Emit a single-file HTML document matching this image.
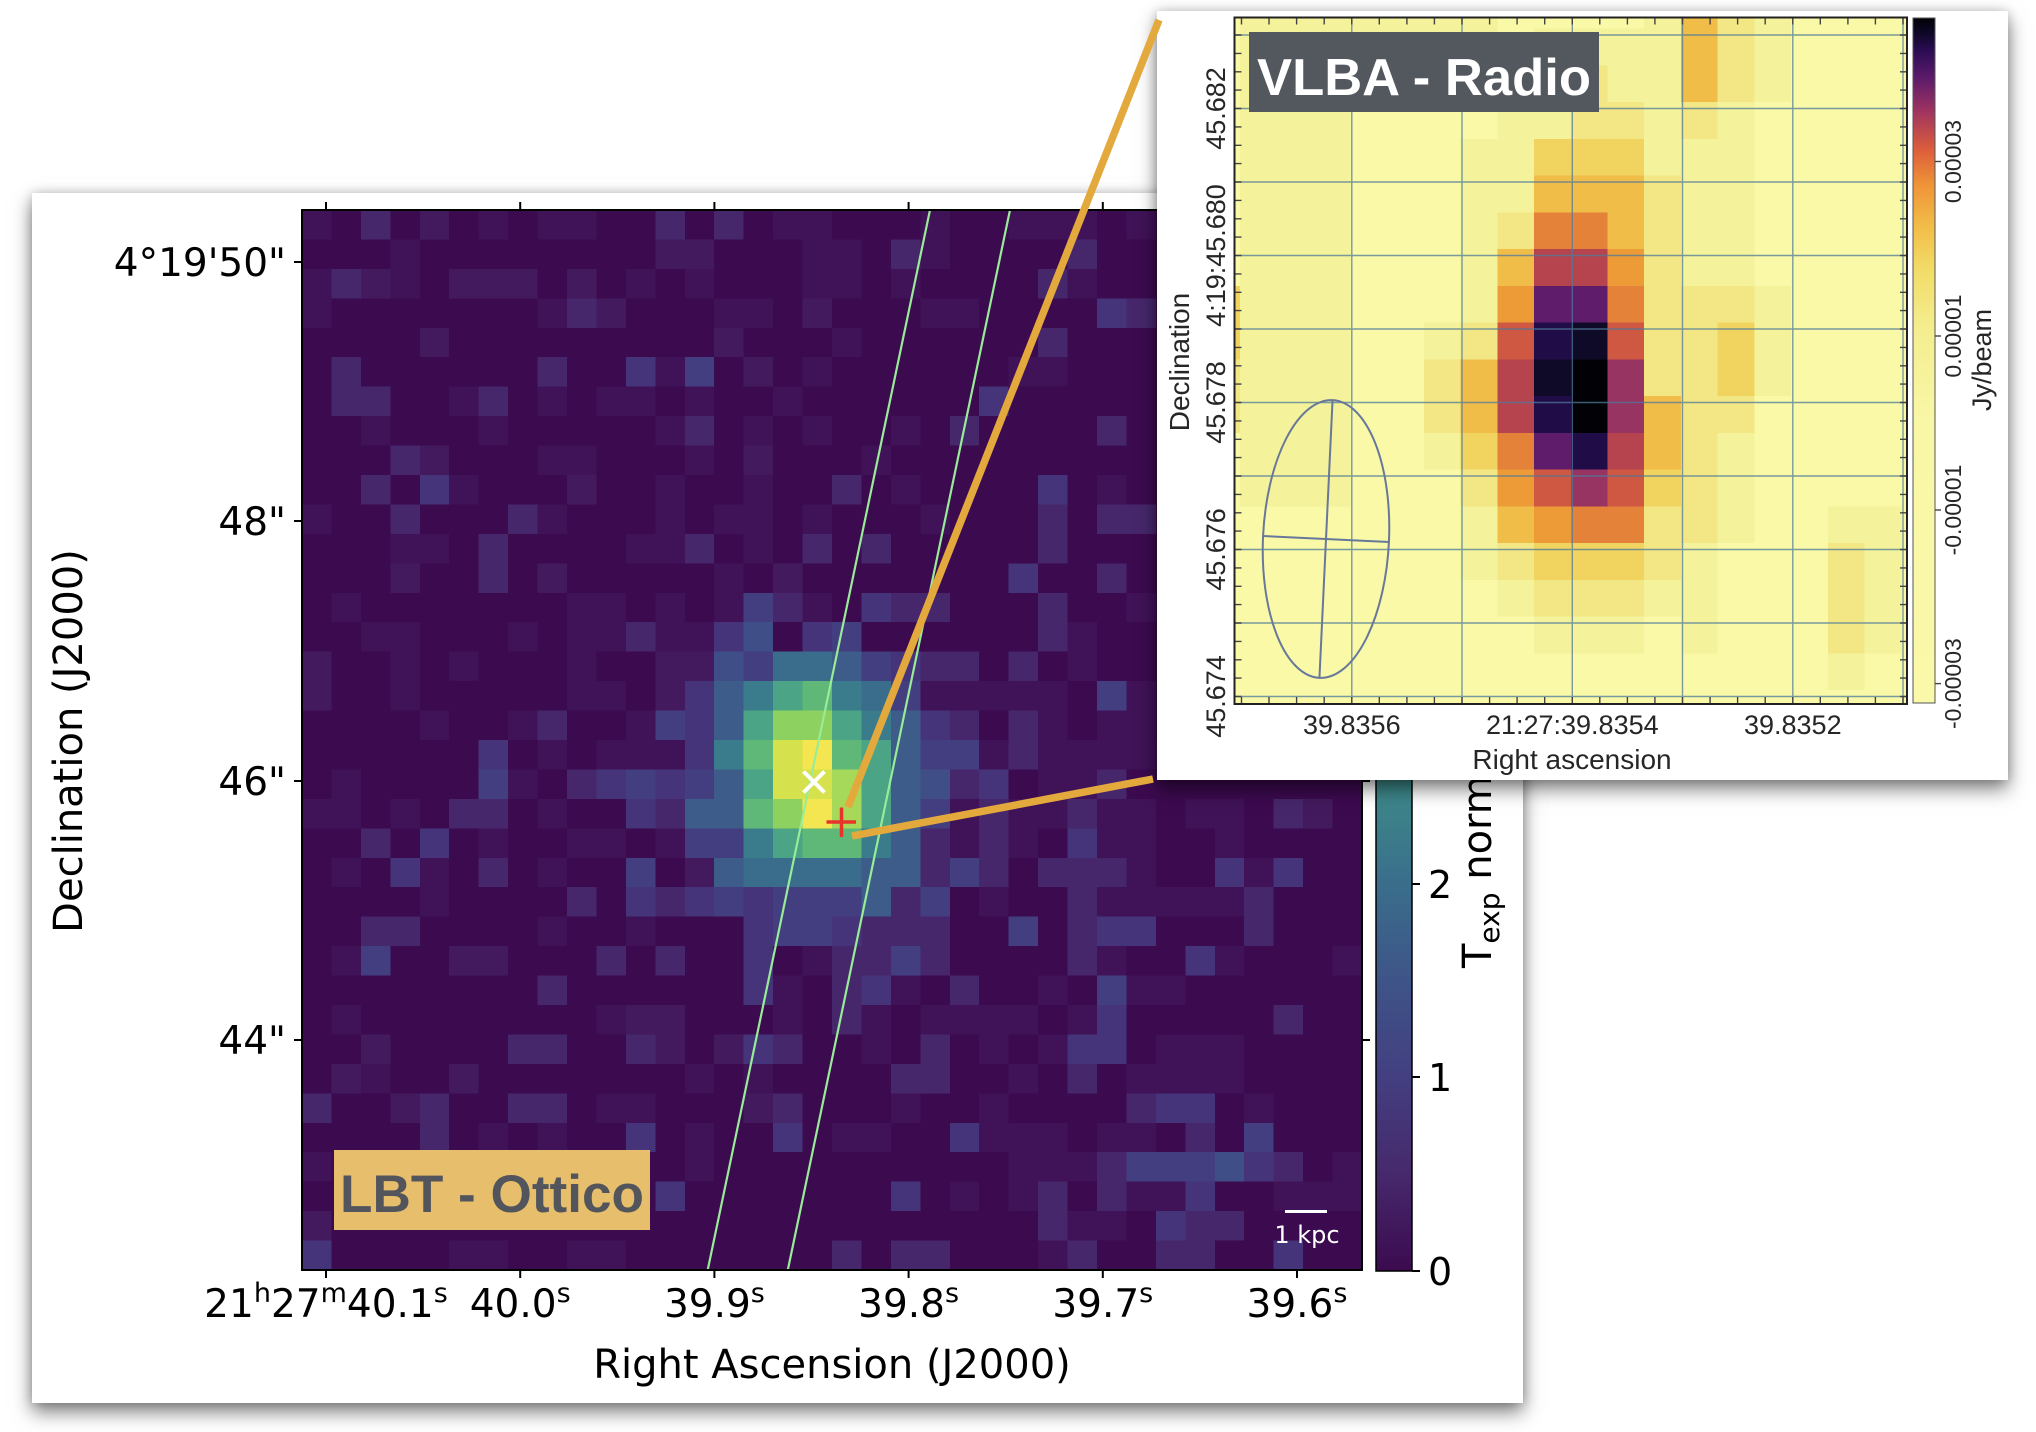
<!DOCTYPE html>
<html><head><meta charset="utf-8">
<style>
html,body{margin:0;padding:0;background:#fff;}
body{width:2036px;height:1432px;position:relative;overflow:hidden;}
.card{position:absolute;background:#fff;}
#main{left:32px;top:193px;width:1491px;height:1210px;box-shadow:0 9px 18px rgba(0,0,0,0.5),0 0 10px rgba(0,0,0,0.18);}
#inset{left:1157px;top:11px;width:851px;height:769px;box-shadow:0 9px 18px rgba(0,0,0,0.5),0 0 10px rgba(0,0,0,0.18);}
svg{position:absolute;left:0;top:0;}
</style></head>
<body>
<div class="card" id="main"></div>
<svg width="2036" height="1432" font-family="'DejaVu Sans', sans-serif">
<defs>
<linearGradient id="vir" gradientUnits="userSpaceOnUse" x1="0" y1="1271" x2="0" y2="210">
<stop offset="0" stop-color="#3c0a4f"/>
<stop offset="0.091" stop-color="#46296c"/>
<stop offset="0.183" stop-color="#433f80"/>
<stop offset="0.274" stop-color="#3e5488"/>
<stop offset="0.365" stop-color="#3a6e8b"/>
<stop offset="0.463" stop-color="#3e8b8a"/>
<stop offset="0.548" stop-color="#45a284"/>
<stop offset="0.73" stop-color="#7fcb68"/>
<stop offset="0.913" stop-color="#d0e04e"/>
<stop offset="1" stop-color="#f3e651"/>
</linearGradient>
</defs>
<!-- optical pixel image -->
<svg x="302" y="210" width="1060" height="1060" viewBox="0 0 36 36" preserveAspectRatio="none" shape-rendering="crispEdges">
<rect x="0" y="0" width="36" height="36" fill="#3c0a4f"/>
<path fill="#401257" d="M0 0h1v1h-1zM6 0h1v1h-1zM8 0h2v1h-2zM16 0h2v1h-2zM21 0h1v1h-1zM24 0h3v1h-3zM28 0h1v1h-1zM3 1h1v1h-1zM17 1h2v1h-2zM21 1h1v1h-1zM0 2h1v1h-1zM3 2h1v1h-1zM11 2h1v1h-1zM13 2h1v1h-1zM17 2h2v1h-2zM20 2h1v1h-1zM26 2h1v1h-1zM0 3h1v1h-1zM8 3h1v1h-1zM14 3h2v1h-2zM21 3h2v1h-2zM18 4h1v1h-1zM12 5h1v1h-1zM17 5h1v1h-1zM24 5h2v1h-2zM5 6h1v1h-1zM8 6h1v1h-1zM10 6h2v1h-2zM13 6h1v1h-1zM16 6h1v1h-1zM2 7h1v1h-1zM6 7h1v1h-1zM12 7h1v1h-1zM15 7h1v1h-1zM17 7h1v1h-1zM20 7h1v1h-1zM8 8h2v1h-2zM13 8h1v1h-1zM19 8h1v1h-1zM5 9h1v1h-1zM12 9h1v1h-1zM15 9h1v1h-1zM20 9h1v1h-1zM27 9h1v1h-1zM0 10h1v1h-1zM8 10h1v1h-1zM12 10h1v1h-1zM14 10h2v1h-2zM17 10h1v1h-1zM21 10h1v1h-1zM3 11h2v1h-2zM11 11h2v1h-2zM15 11h1v1h-1zM14 12h1v1h-1zM1 13h1v1h-1zM9 13h2v1h-2zM12 13h1v1h-1zM14 13h1v1h-1zM17 13h1v1h-1zM28 13h1v1h-1zM2 14h2v1h-2zM7 14h1v1h-1zM9 14h2v1h-2zM12 14h2v1h-2zM26 14h1v1h-1zM3 15h1v1h-1zM5 15h1v1h-1zM9 15h1v1h-1zM20 15h1v1h-1zM26 15h1v1h-1zM3 16h1v1h-1zM9 16h2v1h-2zM21 16h5v1h-5zM28 16h1v1h-1zM4 17h1v1h-1zM7 17h1v1h-1zM11 17h1v1h-1zM25 17h1v1h-1zM27 17h2v1h-2zM8 18h1v1h-1zM10 18h3v1h-3zM23 18h1v1h-1zM25 18h5v1h-5zM1 19h1v1h-1zM7 19h1v1h-1zM25 19h2v1h-2zM0 20h2v1h-2zM3 20h1v1h-1zM8 20h1v1h-1zM22 20h1v1h-1zM24 20h2v1h-2zM27 20h2v1h-2zM30 20h2v1h-2zM6 21h1v1h-1zM9 21h2v1h-2zM12 21h1v1h-1zM22 21h1v1h-1zM24 21h1v1h-1zM27 21h2v1h-2zM31 21h1v1h-1zM1 22h1v1h-1zM4 22h1v1h-1zM8 22h1v1h-1zM28 22h1v1h-1zM32 22h1v1h-1zM4 23h1v1h-1zM23 23h1v1h-1zM27 23h5v1h-5zM8 24h1v1h-1zM11 24h1v1h-1zM1 25h1v1h-1zM17 25h1v1h-1zM27 25h1v1h-1zM31 25h1v1h-1zM35 25h1v1h-1zM16 26h1v1h-1zM20 26h1v1h-1zM25 26h1v1h-1zM28 26h2v1h-2zM1 27h1v1h-1zM10 27h1v1h-1zM16 27h1v1h-1zM19 27h1v1h-1zM21 27h4v1h-4zM26 27h1v1h-1zM19 28h1v1h-1zM23 28h1v1h-1zM25 28h1v1h-1zM29 28h3v1h-3zM2 29h1v1h-1zM13 29h1v1h-1zM15 29h1v1h-1zM24 29h1v1h-1zM28 29h4v1h-4zM10 30h2v1h-2zM20 30h1v1h-1zM23 30h1v1h-1zM32 30h1v1h-1zM6 31h1v1h-1zM8 31h1v1h-1zM13 31h1v1h-1zM18 31h2v1h-2zM23 31h3v1h-3zM27 31h2v1h-2zM0 32h1v1h-1zM13 32h1v1h-1zM24 32h3v1h-3zM35 32h1v1h-1zM22 33h1v1h-1zM24 33h1v1h-1zM28 33h2v1h-2zM33 33h3v1h-3zM26 34h2v1h-2zM5 35h2v1h-2zM9 35h2v1h-2zM25 35h1v1h-1z"/>
<path fill="#431a5e" d="M4 0h1v1h-1zM12 1h2v1h-2zM2 2h1v1h-1zM5 2h3v1h-3zM9 2h1v1h-1zM10 3h1v1h-1zM17 3h1v1h-1zM4 4h1v1h-1zM14 4h1v1h-1zM15 5h1v1h-1zM4 8h1v1h-1zM15 8h1v1h-1zM9 9h1v1h-1zM3 12h1v1h-1zM8 12h1v1h-1zM16 12h1v1h-1zM0 15h1v1h-1zM12 15h2v1h-2zM0 16h1v1h-1zM12 16h1v1h-1zM34 20h1v1h-1zM13 22h1v1h-1zM5 25h2v1h-2zM11 27h2v1h-2zM2 28h1v1h-1zM12 28h1v1h-1zM14 28h1v1h-1zM1 29h1v1h-1zM5 29h1v1h-1zM3 30h1v1h-1zM15 30h1v1h-1zM0 34h1v1h-1z"/>
<path fill="#46276b" d="M2 0h1v1h-1zM12 0h1v1h-1zM14 0h1v1h-1zM20 1h1v1h-1zM26 1h1v1h-1zM1 2h1v1h-1zM25 2h1v1h-1zM9 3h1v1h-1zM28 3h1v1h-1zM25 4h1v1h-1zM1 5h1v1h-1zM8 5h1v1h-1zM1 6h2v1h-2zM6 6h1v1h-1zM13 7h1v1h-1zM22 7h1v1h-1zM27 7h1v1h-1zM3 8h1v1h-1zM2 9h1v1h-1zM18 9h1v1h-1zM3 10h1v1h-1zM7 10h1v1h-1zM25 10h1v1h-1zM27 10h2v1h-2zM6 11h1v1h-1zM13 11h1v1h-1zM17 11h1v1h-1zM19 11h1v1h-1zM25 11h1v1h-1zM6 12h1v1h-1zM27 12h1v1h-1zM16 13h1v1h-1zM20 13h2v1h-2zM25 13h1v1h-1zM11 14h1v1h-1zM25 14h1v1h-1zM21 15h2v1h-2zM24 15h1v1h-1zM8 17h1v1h-1zM22 17h1v1h-1zM24 17h1v1h-1zM24 18h1v1h-1zM9 19h1v1h-1zM22 19h1v1h-1zM27 19h1v1h-1zM5 20h2v1h-2zM12 20h1v1h-1zM23 20h1v1h-1zM26 20h1v1h-1zM33 20h1v1h-1zM2 21h1v1h-1zM21 21h1v1h-1zM23 21h1v1h-1zM6 22h1v1h-1zM21 22h1v1h-1zM23 22h1v1h-1zM25 22h3v1h-3zM9 23h1v1h-1zM12 23h1v1h-1zM20 23h1v1h-1zM26 23h1v1h-1zM32 23h1v1h-1zM2 24h2v1h-2zM19 24h3v1h-3zM26 24h1v1h-1zM32 24h1v1h-1zM10 25h1v1h-1zM12 25h1v1h-1zM18 25h2v1h-2zM21 25h1v1h-1zM26 25h1v1h-1zM8 26h1v1h-1zM18 26h1v1h-1zM22 26h1v1h-1zM18 27h1v1h-1zM33 27h1v1h-1zM7 28h2v1h-2zM11 28h1v1h-1zM16 28h1v1h-1zM21 28h1v1h-1zM20 29h2v1h-2zM26 29h1v1h-1zM0 30h1v1h-1zM4 30h1v1h-1zM7 30h2v1h-2zM16 30h1v1h-1zM28 30h1v1h-1zM4 31h1v1h-1zM30 31h1v1h-1zM27 32h1v1h-1zM33 32h1v1h-1zM25 33h1v1h-1zM27 33h1v1h-1zM25 34h1v1h-1zM30 34h2v1h-2zM18 35h1v1h-1zM20 35h2v1h-2zM26 35h1v1h-1zM29 35h2v1h-2z"/>
<path fill="#45347a" d="M27 3h1v1h-1zM11 5h1v1h-1zM23 6h1v1h-1zM4 9h1v1h-1zM25 9h1v1h-1zM24 12h1v1h-1zM19 13h1v1h-1zM14 14h1v1h-1zM17 14h1v1h-1zM20 15h1v1h-1zM13 16h1v1h-1zM13 17h1v1h-1zM21 17h1v1h-1zM6 18h1v1h-1zM13 18h1v1h-1zM10 19h1v1h-1zM12 19h1v1h-1zM23 19h1v1h-1zM11 20h1v1h-1zM4 21h1v1h-1zM26 21h1v1h-1zM3 22h1v1h-1zM31 22h1v1h-1zM33 22h1v1h-1zM11 23h1v1h-1zM13 23h1v1h-1zM15 23h1v1h-1zM15 24h1v1h-1zM18 24h1v1h-1zM27 24h2v1h-2zM15 25h1v1h-1zM30 25h1v1h-1zM15 26h1v1h-1zM19 26h1v1h-1zM27 27h1v1h-1zM15 28h1v1h-1zM26 28h2v1h-2zM29 30h2v1h-2zM11 31h1v1h-1zM16 31h1v1h-1zM22 31h1v1h-1zM32 32h1v1h-1zM12 33h1v1h-1zM20 33h1v1h-1zM30 33h1v1h-1zM29 34h1v1h-1zM0 35h1v1h-1zM33 35h1v1h-1z"/>
<path fill="#433e80" d="M13 5h1v1h-1zM15 13h1v1h-1zM18 14h1v1h-1zM15 15h1v1h-1zM19 15h1v1h-1zM20 16h1v1h-1zM27 16h1v1h-1zM12 17h1v1h-1zM21 18h2v1h-2zM6 19h1v1h-1zM11 19h1v1h-1zM13 19h1v1h-1zM21 20h1v1h-1zM13 21h2v1h-2zM11 22h1v1h-1zM22 22h1v1h-1zM14 23h1v1h-1zM16 23h3v1h-3zM21 23h1v1h-1zM16 24h2v1h-2zM24 24h1v1h-1zM2 25h1v1h-1zM20 25h1v1h-1zM27 26h1v1h-1zM32 31h1v1h-1zM28 32h3v1h-3z"/>
<path fill="#3f4e87" d="M15 14h1v1h-1zM14 15h1v1h-1zM21 19h1v1h-1zM31 32h1v1h-1z"/>
<path fill="#3d5c8a" d="M18 15h1v1h-1zM14 16h1v1h-1zM14 17h1v1h-1zM20 17h1v1h-1zM20 18h1v1h-1zM14 19h1v1h-1zM20 19h1v1h-1zM13 20h2v1h-2zM20 20h1v1h-1zM20 21h1v1h-1zM14 22h1v1h-1zM19 22h2v1h-2zM19 23h1v1h-1z"/>
<path fill="#3a6d8b" d="M16 15h2v1h-2zM19 16h1v1h-1zM15 22h4v1h-4z"/>
<path fill="#3a7c8c" d="M15 16h1v1h-1zM18 16h1v1h-1zM19 17h1v1h-1zM14 18h1v1h-1zM15 21h1v1h-1zM19 21h1v1h-1z"/>
<path fill="#4aa485" d="M16 16h1v1h-1zM15 17h1v1h-1zM18 17h1v1h-1zM19 18h1v1h-1zM15 19h1v1h-1zM19 19h1v1h-1zM19 20h1v1h-1zM16 21h1v1h-1z"/>
<path fill="#60b878" d="M17 16h1v1h-1zM15 18h1v1h-1zM18 18h1v1h-1zM15 20h1v1h-1zM17 21h2v1h-2z"/>
<path fill="#8dd160" d="M16 17h2v1h-2zM16 20h1v1h-1z"/>
<path fill="#a6d95a" d="M18 19h1v1h-1zM18 20h1v1h-1z"/>
<path fill="#d5e24d" d="M16 18h1v1h-1zM16 19h2v1h-2z"/>
<path fill="#f4e651" d="M17 18h1v1h-1zM17 20h1v1h-1z"/>
</svg>
<!-- slit lines -->
<line x1="930" y1="210" x2="707.7" y2="1270" stroke="#98ec98" stroke-width="2.2"/>
<line x1="1010" y1="210" x2="787.8" y2="1270" stroke="#98ec98" stroke-width="2.2"/>
<!-- markers -->
<line x1="803.5" y1="771.5" x2="824.5" y2="792.5" stroke="#fff" stroke-width="4"/>
<line x1="803.5" y1="792.5" x2="824.5" y2="771.5" stroke="#fff" stroke-width="4"/>
<line x1="826.5" y1="822" x2="856" y2="822" stroke="#e8332a" stroke-width="3.5"/>
<line x1="841.5" y1="807.5" x2="841.5" y2="837" stroke="#e8332a" stroke-width="3.5"/>
<!-- LBT label -->
<rect x="334" y="1150" width="316" height="80" fill="#e7bf6c"/>
<text x="340" y="1212" font-family="'Liberation Sans', sans-serif" font-weight="bold" font-size="53" fill="#52555c" textLength="304" lengthAdjust="spacingAndGlyphs">LBT - Ottico</text>
<!-- scale bar -->
<line x1="1285" y1="1211.5" x2="1327" y2="1211.5" stroke="#fff" stroke-width="3"/>
<text x="1307" y="1243" font-size="24" fill="#fff" text-anchor="middle">1 kpc</text>
<!-- plot frame -->
<rect x="302" y="210" width="1060" height="1060" fill="none" stroke="#000" stroke-width="2"/>
<g stroke="#000" stroke-width="2">
<line x1="326" y1="1270" x2="326" y2="1278"/><line x1="520.2" y1="1270" x2="520.2" y2="1278"/><line x1="714.4" y1="1270" x2="714.4" y2="1278"/><line x1="908.6" y1="1270" x2="908.6" y2="1278"/><line x1="1102.8" y1="1270" x2="1102.8" y2="1278"/><line x1="1297" y1="1270" x2="1297" y2="1278"/>
<line x1="326" y1="202" x2="326" y2="210"/><line x1="520.2" y1="202" x2="520.2" y2="210"/><line x1="714.4" y1="202" x2="714.4" y2="210"/><line x1="908.6" y1="202" x2="908.6" y2="210"/><line x1="1102.8" y1="202" x2="1102.8" y2="210"/><line x1="1297" y1="202" x2="1297" y2="210"/>
<line x1="294" y1="262" x2="302" y2="262"/><line x1="294" y1="521" x2="302" y2="521"/><line x1="294" y1="781" x2="302" y2="781"/><line x1="294" y1="1040" x2="302" y2="1040"/>
<line x1="1362" y1="262" x2="1370" y2="262"/><line x1="1362" y1="521" x2="1370" y2="521"/><line x1="1362" y1="781" x2="1370" y2="781"/><line x1="1362" y1="1040" x2="1370" y2="1040"/>
</g>
<!-- tick labels -->
<g font-size="39" fill="#000" text-anchor="end">
<text x="286" y="276">4°19'50"</text>
<text x="286" y="535">48"</text>
<text x="286" y="795">46"</text>
<text x="286" y="1054">44"</text>
</g>
<g font-size="39" fill="#000" text-anchor="middle">
<text x="326" y="1317">21<tspan dy="-15" font-size="27">h</tspan><tspan dy="15">27</tspan><tspan dy="-15" font-size="27">m</tspan><tspan dy="15">40.1</tspan><tspan dy="-15" font-size="27">s</tspan></text>
<text x="520.2" y="1317">40.0<tspan dy="-15" font-size="27">s</tspan></text>
<text x="714.4" y="1317">39.9<tspan dy="-15" font-size="27">s</tspan></text>
<text x="908.6" y="1317">39.8<tspan dy="-15" font-size="27">s</tspan></text>
<text x="1102.8" y="1317">39.7<tspan dy="-15" font-size="27">s</tspan></text>
<text x="1297" y="1317">39.6<tspan dy="-15" font-size="27">s</tspan></text>
</g>
<text x="832" y="1378" font-size="40" text-anchor="middle" fill="#000">Right Ascension (J2000)</text>
<text transform="translate(82,741) rotate(-90)" font-size="40" text-anchor="middle" fill="#000">Declination (J2000)</text>
<!-- colorbar -->
<rect x="1376" y="210" width="36" height="1061" fill="url(#vir)" stroke="#000" stroke-width="1.5"/>
<g stroke="#000" stroke-width="2">
<line x1="1412" y1="1271" x2="1420" y2="1271"/><line x1="1412" y1="1077" x2="1420" y2="1077"/><line x1="1412" y1="884" x2="1420" y2="884"/>
</g>
<g font-size="38" fill="#000">
<text x="1428" y="1285">0</text>
<text x="1428" y="1091">1</text>
<text x="1428" y="898">2</text>
</g>
<text transform="translate(1491,968) rotate(-90)" font-size="40" fill="#000">T<tspan font-size="28" dy="8">exp</tspan><tspan dy="-8"> norm</tspan></text>
</svg>

<div class="card" id="inset"></div>
<svg width="2036" height="1432" font-family="'Liberation Sans', Arial, sans-serif">
<defs>
<linearGradient id="inf" x1="0" y1="0" x2="0" y2="1">
<stop offset="0" stop-color="#020106"/>
<stop offset="0.018" stop-color="#0a0720"/>
<stop offset="0.047" stop-color="#2a0c52"/>
<stop offset="0.086" stop-color="#5a1a6a"/>
<stop offset="0.137" stop-color="#a03460"/>
<stop offset="0.193" stop-color="#dd5e3a"/>
<stop offset="0.244" stop-color="#ef9438"/>
<stop offset="0.31" stop-color="#f2c04a"/>
<stop offset="0.368" stop-color="#f2dc68"/>
<stop offset="0.455" stop-color="#f4ee90"/>
<stop offset="0.587" stop-color="#f8f7a6"/>
<stop offset="1" stop-color="#f9f9a9"/>
</linearGradient>
</defs>
<svg x="1234.5" y="17.5" width="672.5" height="686.5" viewBox="-0.15 -0.30 18.3 18.68" preserveAspectRatio="none" shape-rendering="crispEdges">
<rect x="-1" y="-1" width="21" height="21" fill="#f9f9a8"/>
<path fill="#f4f29b" d="M0 2h3v11h-3zM6 3h1v5h-1zM6 13h1v2h-1zM7 2h1v3h-1zM7 15h1v1h-1zM8 0h1v3h-1zM8 16h1v1h-1zM9 0h1v1h-1zM9 16h1v1h-1zM10 0h1v2h-1zM10 16h1v1h-1zM5 8h1v1h-1zM5 11h1v1h-1zM11 -1h1v5h-1zM11 15h1v1h-1zM12 3h1v4h-1zM12 14h1v3h-1zM13 2h1v5h-1zM13 11h1v3h-1zM14 7h1v3h-1zM16 13h1v1h-1zM16 17h1v1h-1zM17 13h1v4h-1zM14 -1h1v3h-1zM0 -1h7v3h-7z"/>
<path fill="#f2e784" d="M7 5h1v1h-1zM7 14h1v1h-1zM8 15h1v1h-1zM9 1h1v2h-1zM9 15h1v1h-1zM10 2h1v1h-1zM10 15h1v1h-1zM6 8h1v1h-1zM6 12h1v1h-1zM5 9h1v2h-1zM11 4h1v6h-1zM11 13h1v2h-1zM12 2h1v1h-1zM12 7h1v7h-1zM13 -1h1v3h-1zM13 7h1v1h-1zM13 10h1v1h-1zM16 14h1v3h-1zM-1 9h1v2h-1z"/>
<path fill="#f1d45f" d="M8 3h3v1h-3zM8 14h3v1h-3zM6 11h1v1h-1zM11 12h1v1h-1zM13 8h1v2h-1zM-1 7h1v2h-1z"/>
<path fill="#f0bd49" d="M7 6h1v1h-1zM7 13h1v1h-1zM8 4h3v1h-3zM6 9h1v2h-1zM11 10h1v2h-1zM12 -1h1v3h-1zM10 5h1v1h-1z"/>
<path fill="#ec9b36" d="M7 7h1v1h-1zM7 12h1v1h-1zM8 13h1v1h-1zM10 6h1v1h-1z"/>
<path fill="#e5823a" d="M7 11h1v1h-1zM8 5h2v1h-2zM9 13h2v1h-2zM10 7h1v1h-1z"/>
<path fill="#cf5842" d="M7 8h1v1h-1zM8 12h1v1h-1zM10 8h1v1h-1zM10 12h1v1h-1z"/>
<path fill="#b5444f" d="M7 9h1v2h-1zM8 6h2v1h-2zM10 11h1v1h-1z"/>
<path fill="#973462" d="M9 12h1v1h-1zM10 9h1v2h-1z"/>
<path fill="#5f1c6a" d="M8 7h2v1h-2zM8 11h1v1h-1z"/>
<path fill="#200c46" d="M8 8h1v1h-1zM8 10h1v1h-1zM9 11h1v1h-1z"/>
<path fill="#0f0a28" d="M8 9h1v1h-1zM9 8h1v1h-1z"/>
<path fill="#020106" d="M9 9h1v2h-1z"/>
</svg>
<!-- grid -->
<g stroke="#4f7a99" stroke-width="1.4" opacity="0.75">
<line x1="1351.8" y1="17.5" x2="1351.8" y2="704"/><line x1="1462" y1="17.5" x2="1462" y2="704"/><line x1="1572.3" y1="17.5" x2="1572.3" y2="704"/><line x1="1682.5" y1="17.5" x2="1682.5" y2="704"/><line x1="1792.8" y1="17.5" x2="1792.8" y2="704"/><line x1="1903" y1="17.5" x2="1903" y2="704"/>
<line x1="1234.5" y1="35" x2="1907" y2="35"/><line x1="1234.5" y1="108.5" x2="1907" y2="108.5"/><line x1="1234.5" y1="182" x2="1907" y2="182"/><line x1="1234.5" y1="255.5" x2="1907" y2="255.5"/><line x1="1234.5" y1="329" x2="1907" y2="329"/><line x1="1234.5" y1="402.5" x2="1907" y2="402.5"/><line x1="1234.5" y1="476" x2="1907" y2="476"/><line x1="1234.5" y1="549.5" x2="1907" y2="549.5"/><line x1="1234.5" y1="623" x2="1907" y2="623"/><line x1="1234.5" y1="696.5" x2="1907" y2="696.5"/>
</g>
<!-- minor ticks -->
<path stroke="#444" stroke-width="1.4" fill="none" d="M1241.5 17.5v7M1269 17.5v7M1296.6 17.5v7M1324.2 17.5v7M1351.8 17.5v7M1379.3 17.5v7M1406.9 17.5v7M1434.4 17.5v7M1462 17.5v7M1489.6 17.5v7M1517.1 17.5v7M1544.7 17.5v7M1572.3 17.5v7M1599.8 17.5v7M1627.4 17.5v7M1654.9 17.5v7M1682.5 17.5v7M1710.1 17.5v7M1737.6 17.5v7M1765.2 17.5v7M1792.8 17.5v7M1820.3 17.5v7M1847.9 17.5v7M1875.4 17.5v7M1903 17.5v7
M1241.5 704v-7M1269 704v-7M1296.6 704v-7M1324.2 704v-7M1351.8 704v-7M1379.3 704v-7M1406.9 704v-7M1434.4 704v-7M1462 704v-7M1489.6 704v-7M1517.1 704v-7M1544.7 704v-7M1572.3 704v-7M1599.8 704v-7M1627.4 704v-7M1654.9 704v-7M1682.5 704v-7M1710.1 704v-7M1737.6 704v-7M1765.2 704v-7M1792.8 704v-7M1820.3 704v-7M1847.9 704v-7M1875.4 704v-7M1903 704v-7
M1234.5 35h7M1234.5 53.4h7M1234.5 71.8h7M1234.5 90.1h7M1234.5 108.5h7M1234.5 126.9h7M1234.5 145.3h7M1234.5 163.6h7M1234.5 182h7M1234.5 200.4h7M1234.5 218.8h7M1234.5 237.1h7M1234.5 255.5h7M1234.5 273.9h7M1234.5 292.3h7M1234.5 310.6h7M1234.5 329h7M1234.5 347.4h7M1234.5 365.8h7M1234.5 384.1h7M1234.5 402.5h7M1234.5 420.9h7M1234.5 439.3h7M1234.5 457.6h7M1234.5 476h7M1234.5 494.4h7M1234.5 512.8h7M1234.5 531.1h7M1234.5 549.5h7M1234.5 567.9h7M1234.5 586.3h7M1234.5 604.6h7M1234.5 623h7M1234.5 641.4h7M1234.5 659.8h7M1234.5 678.1h7M1234.5 696.5h7
M1907 35h-7M1907 53.4h-7M1907 71.8h-7M1907 90.1h-7M1907 108.5h-7M1907 126.9h-7M1907 145.3h-7M1907 163.6h-7M1907 182h-7M1907 200.4h-7M1907 218.8h-7M1907 237.1h-7M1907 255.5h-7M1907 273.9h-7M1907 292.3h-7M1907 310.6h-7M1907 329h-7M1907 347.4h-7M1907 365.8h-7M1907 384.1h-7M1907 402.5h-7M1907 420.9h-7M1907 439.3h-7M1907 457.6h-7M1907 476h-7M1907 494.4h-7M1907 512.8h-7M1907 531.1h-7M1907 549.5h-7M1907 567.9h-7M1907 586.3h-7M1907 604.6h-7M1907 623h-7M1907 641.4h-7M1907 659.8h-7M1907 678.1h-7M1907 696.5h-7"/>
<!-- beam -->
<g transform="rotate(2.7 1326 539)" stroke="#68789a" stroke-width="2" fill="none">
<ellipse cx="1326" cy="539" rx="63" ry="139"/>
<line x1="1326" y1="400" x2="1326" y2="678"/>
<line x1="1263" y1="539" x2="1389" y2="539"/>
</g>
<rect x="1234.5" y="17.5" width="672.5" height="686.5" fill="none" stroke="#222" stroke-width="2"/>
<!-- VLBA label -->
<rect x="1249" y="32" width="350" height="80" fill="#53575e"/>
<text x="1257" y="95" font-weight="bold" font-size="52" fill="#fff" textLength="334" lengthAdjust="spacingAndGlyphs">VLBA - Radio</text>
<!-- inset axes text -->
<g font-size="27" fill="#262626" text-anchor="middle">
<text x="1351.8" y="734">39.8356</text>
<text x="1572.3" y="734">21:27:39.8354</text>
<text x="1792.8" y="734">39.8352</text>
<text transform="translate(1225,108.5) rotate(-90)">45.682</text>
<text transform="translate(1225,255.5) rotate(-90)">4:19:45.680</text>
<text transform="translate(1225,402.5) rotate(-90)">45.678</text>
<text transform="translate(1225,549.5) rotate(-90)">45.676</text>
<text transform="translate(1225,696.5) rotate(-90)">45.674</text>
</g>
<text x="1572" y="769" font-size="28" fill="#262626" text-anchor="middle">Right ascension</text>
<text transform="translate(1189,362) rotate(-90)" font-size="28" fill="#262626" text-anchor="middle">Declination</text>
<!-- inset colorbar -->
<rect x="1913" y="18" width="22" height="685" fill="url(#inf)" stroke="#555" stroke-width="1"/>
<g stroke="#444" stroke-width="1.4">
<line x1="1935" y1="161.5" x2="1941" y2="161.5"/><line x1="1935" y1="336" x2="1941" y2="336"/><line x1="1935" y1="510" x2="1941" y2="510"/><line x1="1935" y1="683.6" x2="1941" y2="683.6"/>
</g>
<g font-size="23" fill="#262626" text-anchor="middle">
<text transform="translate(1961,161.5) rotate(-90)">0.00003</text>
<text transform="translate(1961,336) rotate(-90)">0.00001</text>
<text transform="translate(1961,510) rotate(-90)">-0.00001</text>
<text transform="translate(1961,683.6) rotate(-90)">-0.00003</text>
</g>
<text transform="translate(1991,360) rotate(-90)" font-size="27" fill="#262626" text-anchor="middle">Jy/beam</text>
<!-- zoom connector lines -->
<line x1="1159" y1="20" x2="848" y2="807" stroke="#e4a93d" stroke-width="7.5"/>
<line x1="852" y1="836" x2="1153" y2="779" stroke="#e4a93d" stroke-width="7.5"/>
</svg>
</body></html>
